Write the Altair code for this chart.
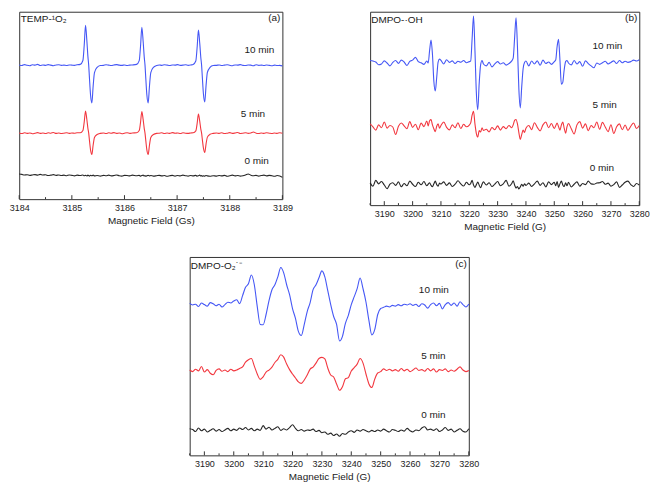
import altair as alt
import pandas as pd

FONT = "Liberation Sans"
SERIES = ["10 min", "5 min", "0 min"]
COLORS = ["#4557f5", "#f2373f", "#262626"]

# ---------------- Panel (a): TEMP-1O2 ----------------
a_field = [
    3184.00, 3184.05, 3184.10, 3184.15, 3184.20, 3184.25, 3184.30, 3184.35, 3184.40, 3184.45,
    3184.50, 3184.55, 3184.60, 3184.65, 3184.70, 3184.75, 3184.80, 3184.85, 3184.90, 3184.95,
    3185.00, 3185.05, 3185.10,
    3185.16, 3185.21, 3185.235, 3185.26, 3185.285, 3185.305, 3185.32, 3185.335, 3185.355, 3185.38,
    3185.405, 3185.43, 3185.48, 3185.54,
    3185.60, 3185.65, 3185.70, 3185.75, 3185.80, 3185.85, 3185.90, 3185.95, 3186.00, 3186.05,
    3186.10, 3186.15,
    3186.23, 3186.28, 3186.305, 3186.33, 3186.355, 3186.375, 3186.39, 3186.405, 3186.425, 3186.45,
    3186.475, 3186.50, 3186.55, 3186.61,
    3186.66, 3186.71, 3186.76, 3186.81, 3186.86, 3186.91, 3186.96, 3187.01, 3187.06, 3187.11,
    3187.16, 3187.21, 3187.26,
    3187.305, 3187.355, 3187.38, 3187.405, 3187.43, 3187.45, 3187.465, 3187.48, 3187.50, 3187.525,
    3187.55, 3187.575, 3187.625, 3187.685,
    3187.75, 3187.80, 3187.85, 3187.90, 3187.95, 3188.00, 3188.05, 3188.10, 3188.15, 3188.20,
    3188.25, 3188.30, 3188.35, 3188.40, 3188.45, 3188.50, 3188.55, 3188.60, 3188.65, 3188.70,
    3188.75, 3188.80, 3188.85, 3188.90, 3188.95, 3189.00,
]
a_10min = [
    71.6, 71.3, 71.8, 71.4, 71.2, 71.7, 71.5, 71.9, 71.3, 71.6, 71.4, 71.8, 71.5, 71.2, 71.6, 71.7,
    71.4, 71.5, 71.3, 71.6, 71.5, 71.4, 71.7,
    71.9, 74.0, 82.1, 92.7, 84.6, 76.2, 71.5, 64.4, 55.7, 51.3, 60.4, 67.5, 70.3, 71.3,
    71.4, 71.7, 71.5, 71.3, 71.6, 71.8, 71.5, 71.4, 71.6, 71.3, 71.5, 71.6,
    71.9, 73.9, 81.6, 91.7, 84.0, 75.9, 71.5, 64.4, 55.7, 51.3, 60.4, 67.5, 70.3, 71.3,
    71.6, 71.4, 71.7, 71.5, 71.3, 71.6, 71.5, 71.8, 71.4, 71.5, 71.7, 71.4, 71.6,
    71.9, 73.7, 80.9, 90.2, 83.1, 75.6, 71.5, 64.6, 56.1, 51.8, 60.7, 67.6, 70.3, 71.3,
    71.4, 71.6, 71.3, 71.5, 71.7, 71.4, 71.2, 71.6, 71.5, 71.8, 71.4, 71.3, 71.6, 71.5, 71.2, 71.7,
    71.4, 71.5, 71.3, 71.6, 71.4, 71.2, 71.5, 71.3, 71.4, 71.1,
]
a_5min = [
    35.3, 35.0, 35.4, 35.1, 35.3, 34.9, 35.2, 35.5, 35.1, 35.3, 35.0, 35.4, 35.2, 35.6, 35.1, 35.3,
    35.0, 35.2, 35.4, 35.1, 35.3, 35.2, 35.4,
    35.4, 36.6, 41.1, 47.0, 42.5, 37.8, 35.2, 31.2, 26.3, 23.8, 28.9, 32.9, 34.5, 35.1,
    35.3, 35.0, 35.4, 35.2, 35.5, 35.1, 35.3, 34.9, 35.2, 35.4, 35.1, 35.3,
    35.4, 36.6, 41.0, 46.8, 42.4, 37.8, 35.2, 31.2, 26.3, 23.8, 28.9, 32.9, 34.5, 35.1,
    35.2, 35.4, 35.0, 35.3, 35.1, 35.5, 35.2, 35.3, 35.0, 35.4, 35.2, 35.1, 35.3,
    35.4, 36.4, 40.3, 45.4, 41.5, 37.4, 35.2, 31.6, 27.2, 24.9, 29.5, 33.1, 34.6, 35.1,
    35.3, 35.1, 35.4, 35.0, 35.2, 35.5, 35.1, 35.3, 35.6, 35.0, 35.2, 35.4, 35.1, 35.3, 35.8, 35.2,
    35.0, 35.3, 35.1, 35.4, 35.2, 35.0, 35.3, 35.1, 35.4, 35.2,
]
a_0min = [
    13.4, 13.2, 12.9, 13.0, 12.7, 12.9, 13.1, 12.8, 13.2, 12.9, 13.0, 12.6, 12.8, 13.1, 12.7, 12.9,
    12.6, 12.8, 12.5, 12.9, 12.7, 12.4, 12.8,
    12.6, 12.9, 12.5, 12.7, 12.4, 12.8, 12.6, 12.3, 12.7, 12.5, 12.8, 12.4, 12.6, 12.3,
    12.7, 12.5, 12.8, 12.4, 12.6, 12.9, 12.5, 12.3, 12.7, 12.6, 12.4, 12.8,
    12.5, 12.7, 12.3, 12.6, 12.8, 12.4, 12.6, 12.2, 12.5, 12.7, 12.4, 12.6, 12.3, 12.5,
    12.7, 12.4, 12.6, 12.2, 12.5, 12.7, 12.3, 12.6, 12.4, 12.8, 12.5, 12.3, 12.6,
    12.4, 12.7, 12.3, 12.5, 12.8, 12.4, 12.6, 12.2, 12.5, 12.3, 12.6, 12.4, 12.2, 12.5,
    12.3, 12.6, 12.4, 12.7, 12.2, 12.5, 12.8, 12.4, 12.6, 12.3, 12.5, 12.9, 13.4, 12.8, 12.5, 12.7,
    12.3, 12.6, 12.8, 12.4, 12.7, 12.5, 12.2, 12.6, 12.4, 11.6,
]
a_major = [3184, 3185, 3186, 3187, 3188, 3189]
a_minor = [3184.5, 3185.5, 3186.5, 3187.5, 3188.5]
a_label_text = ["10 min", "5 min", "0 min", "TEMP-\u00b9O\u2082"]
a_label_x = [3188.28, 3188.21, 3188.28, 3184.03]
a_label_y = [79.8, 45.6, 20.2, 96.0]

# ---------------- Panel (b): DMPO-.OH ----------------
b_field = [
    3185, 3186, 3187, 3188, 3189, 3190, 3191, 3192, 3193, 3194, 3195, 3196, 3197, 3198, 3199, 3200,
    3201, 3202, 3203, 3204, 3205,
    3205.5, 3206, 3206.5, 3207, 3207.5, 3208, 3208.5, 3209, 3209.5, 3210,
    3211, 3212, 3213, 3214, 3215, 3216, 3217, 3218, 3219, 3220,
    3220.5, 3221, 3221.5, 3222, 3222.5, 3223, 3223.5, 3224, 3224.5, 3225,
    3226, 3227, 3228, 3229, 3230, 3231, 3232, 3233, 3234, 3235,
    3235.5, 3236, 3236.5, 3237, 3237.5, 3238, 3238.5, 3239, 3239.5, 3240,
    3241, 3242, 3243, 3244, 3245, 3246, 3247, 3248, 3249, 3250,
    3250.5, 3251, 3251.5, 3252, 3252.5, 3253, 3253.5, 3254, 3254.5, 3255,
    3256, 3257, 3258, 3259, 3260, 3261, 3262, 3263, 3264, 3265, 3266, 3267, 3268, 3269, 3270,
    3271, 3272, 3273, 3274, 3275, 3276, 3277, 3278, 3279, 3280,
]
b_10min = [
    74.8, 74.5, 74.0, 72.6, 73.0, 74.6, 73.5, 72.0, 73.8, 74.8, 73.3, 75.0, 74.0, 72.2, 74.3, 75.0,
    76.4, 74.2, 73.6, 72.8, 74.5,
    73.5, 80.0, 85.3, 78.0, 64.0, 59.0, 66.0, 74.0, 75.5, 74.8,
    73.0, 75.2, 73.8, 74.6, 73.2, 74.4, 73.9, 74.8, 73.6, 74.2,
    74.5, 86.0, 97.8, 80.0, 58.0, 49.3, 63.0, 72.5, 74.8, 73.0,
    72.0, 73.8, 71.5, 73.0, 74.2, 73.0, 73.6, 72.4, 73.2, 74.6,
    76.0, 86.5, 96.8, 82.0, 60.0, 50.3, 61.0, 70.5, 73.8, 74.5,
    72.0, 74.5, 73.0, 74.6, 72.3, 75.0, 73.2, 74.0, 72.8, 74.2,
    75.0, 82.0, 85.7, 75.0, 62.5, 63.5, 70.0, 74.2, 74.8, 73.5,
    72.5, 74.8, 73.0, 74.2, 71.8, 74.6, 73.2, 72.0, 71.0, 73.5, 72.8, 73.6, 74.4, 73.0, 73.8,
    74.6, 73.2, 74.8, 73.6, 74.4, 73.8, 74.2, 75.0, 74.5, 75.2,
]
b_5min = [
    42.0, 40.5, 38.8, 41.5, 40.0, 43.0, 39.8, 41.2, 40.4, 36.5, 40.8, 42.5, 41.0, 39.5, 43.2, 40.2,
    41.8, 39.0, 42.4, 40.6, 43.5,
    41.0, 43.6, 44.2, 41.5, 39.5, 38.0, 40.8, 42.0, 39.8, 41.2,
    43.0, 40.2, 38.9, 41.5, 40.0, 42.6, 39.6, 41.8, 40.5, 41.4,
    42.5, 46.5, 48.5, 42.0, 37.0, 35.2, 38.5, 37.8, 40.0, 38.6,
    39.2, 37.9, 40.1, 39.0, 41.0, 38.8, 40.6, 39.5, 41.2, 40.0,
    41.5, 43.8, 44.3, 42.0, 37.5, 34.0, 36.5, 38.8, 37.6, 39.8,
    41.2, 39.0, 42.6, 40.2, 38.4, 41.5, 43.0, 40.0, 42.2, 39.6,
    41.0, 42.5, 40.6, 38.8, 41.4, 43.0, 39.8, 37.2, 40.6, 42.2,
    39.5, 36.8, 41.5, 43.2, 39.8, 42.0, 38.5, 41.2, 40.0, 43.0, 39.2, 42.8, 40.4, 38.0, 41.6,
    37.0, 40.5, 42.0, 39.0, 41.4, 38.6, 40.8, 42.5, 39.6, 41.2,
]
b_0min = [
    11.5, 9.8, 12.8, 11.0, 12.2, 10.4, 8.5, 10.8, 11.6, 10.2, 12.0, 9.5, 11.2, 10.0, 12.4, 10.8,
    9.6, 11.8, 10.5, 12.2, 10.0,
    10.8, 11.6, 10.2, 9.5, 11.0, 12.4, 10.6, 9.8, 11.4, 10.9,
    12.0, 10.2, 11.5, 9.6, 10.8, 12.6, 11.0, 9.9, 11.8, 10.5,
    11.2, 12.8, 10.4, 9.2, 10.6, 11.9, 10.3, 9.0, 10.8, 12.0,
    10.4, 11.6, 9.6, 10.9, 12.2, 10.0, 11.0, 12.8, 9.8, 11.2,
    12.6, 10.4, 8.8, 9.6, 8.4, 9.4, 10.8, 9.8, 11.0, 10.2,
    11.4, 9.6, 11.0, 12.4, 10.2, 11.6, 9.4, 12.0, 10.6, 11.8,
    10.0, 12.2, 9.2, 11.0, 12.4, 10.4, 9.6, 11.6, 10.0, 11.8,
    9.4, 10.8, 12.0, 9.8, 11.2, 10.6, 12.4, 11.0, 10.8, 11.4, 11.6, 12.2, 10.8, 11.4, 9.8,
    10.6, 12.0, 9.2, 10.4, 11.8, 12.4, 10.6, 9.6, 11.2, 10.4,
]
bc_major = [3190, 3200, 3210, 3220, 3230, 3240, 3250, 3260, 3270, 3280]
bc_minor = [3185, 3195, 3205, 3215, 3225, 3235, 3245, 3255, 3265, 3275]
b_label_text = ["10 min", "5 min", "0 min", "DMPO-\u00b7OH"]
b_label_x = [3263.5, 3263.5, 3262.5, 3185.4]
b_label_y = [82.5, 51.8, 19.3, 95.8]

# ---------------- Panel (c): DMPO-O2.- ----------------
c_field = [
    3185, 3186, 3187, 3188, 3189, 3190, 3191, 3192, 3193, 3194, 3195, 3196, 3197, 3198, 3199, 3200,
    3201, 3202, 3203, 3204, 3205, 3206, 3207, 3208, 3209, 3210, 3211, 3212, 3213, 3214, 3215, 3216,
    3217, 3218, 3219, 3220, 3221, 3222, 3223, 3224, 3225, 3226, 3227, 3228, 3229, 3230, 3231, 3232,
    3233, 3234, 3235, 3236, 3237, 3238, 3239, 3240, 3241, 3242, 3243, 3244, 3245, 3246, 3247, 3248,
    3249, 3250, 3251, 3252, 3253, 3254, 3255, 3256, 3257, 3258, 3259, 3260, 3261, 3262, 3263, 3264,
    3265, 3266, 3267, 3268, 3269, 3270, 3271, 3272, 3273, 3274, 3275, 3276, 3277, 3278, 3279, 3280,
]
c_10min = [
    76.6, 75.8, 76.2, 75.0, 76.8, 76.0, 75.2, 77.0, 76.4, 75.4, 76.2, 74.8, 76.0, 77.2, 76.8, 77.8,
    78.4, 76.5, 80.5, 84.7, 86.5, 90.9, 86.0, 75.0, 66.0, 65.8, 71.0, 78.0, 83.5, 86.0, 90.0, 94.7,
    92.0, 86.0, 81.0, 74.0, 69.0, 62.5, 60.4, 66.0, 72.5, 77.0, 83.5, 86.0, 89.5, 93.0, 90.0, 83.0,
    76.0, 70.0, 66.0, 57.7, 60.0, 66.5, 70.6, 76.0, 80.0, 84.0, 89.4, 84.0, 77.3, 68.0, 60.7, 63.5,
    71.0, 74.0, 74.6, 75.2, 74.8, 75.6, 75.2, 76.0, 75.4, 76.2, 75.8, 76.4, 75.6, 76.2, 75.0, 76.4,
    75.8, 74.2, 76.0, 76.8, 75.4, 76.6, 73.8, 76.0, 77.0, 75.6, 76.8, 75.2, 77.4, 76.0, 74.8, 76.2,
]
c_5min = [
    43.0, 42.2, 43.4, 42.6, 44.8, 42.0, 43.2, 41.4, 40.6, 42.8, 43.6, 42.4, 43.0, 42.2, 43.4, 42.6,
    43.0, 43.8, 44.6, 47.0, 48.2, 48.8, 45.0, 41.0, 38.3, 39.6, 42.0, 43.0, 44.5, 46.8, 48.4, 50.7,
    49.5, 46.0, 43.2, 41.0, 39.0, 37.0, 36.3, 38.0, 40.5, 43.5, 44.5, 46.5, 48.8, 49.4, 48.6, 44.0,
    40.5, 39.5, 36.0, 32.8, 34.6, 38.6, 39.2, 42.5, 44.2, 46.0, 48.8, 46.5, 41.0, 36.0, 34.2, 38.5,
    41.5, 42.2, 43.6, 42.8, 43.4, 42.6, 43.2, 42.4, 43.8, 42.6, 43.4, 42.2, 43.0, 44.0, 42.8, 43.2,
    42.4, 43.8, 42.6, 43.6, 42.0, 43.2, 42.8, 43.6, 42.2, 43.0, 42.4, 43.4, 44.6, 43.0, 42.2, 42.8,
]
c_0min = [
    13.4, 13.0, 12.0, 13.8, 12.4, 13.2, 11.8, 12.6, 13.4, 12.2, 13.0, 12.0, 12.8, 13.6, 12.4, 13.2,
    12.6, 13.8, 13.0, 14.0, 12.8, 13.6, 12.4, 13.2, 12.6, 15.0, 13.2, 14.2, 12.8, 13.6, 14.4, 12.6,
    13.4, 12.8, 14.0, 15.4, 13.6, 12.4, 13.0, 12.2, 12.8, 12.6, 13.2, 12.0, 12.6, 11.4, 11.8, 10.6,
    11.2, 10.0, 10.8, 9.6, 11.0, 10.6, 11.8, 12.4, 11.6, 12.8, 12.2, 13.0, 12.4, 11.8, 12.6, 12.0,
    12.8, 12.2, 13.2, 12.4, 11.8, 13.0, 12.6, 12.0, 12.8, 12.2, 13.6, 12.4, 11.8, 12.8, 12.4, 13.8,
    14.4, 12.8, 13.2, 12.6, 13.4, 12.0, 12.8, 14.0, 12.6, 13.2, 11.8, 12.6, 13.4, 12.2, 11.8, 13.4,
]
c_label_text = ["10 min", "5 min", "0 min", "DMPO-O\u2082\u02d9\u207b"]
c_label_x = [3263.0, 3263.8, 3263.8, 3185.4]
c_label_y = [83.1, 50.2, 20.5, 95.6]


def panel(field, traces, xdom, major, minor, xtitle, ltext, lx, ly, letter, w, h):
    rows = []
    for name, vals in zip(SERIES, traces):
        assert len(vals) == len(field), (name, len(vals), len(field))
        for f, v in zip(field, vals):
            rows.append({"field": f, "signal": v, "series": name})
    df = pd.DataFrame(rows)
    x = alt.X("field:Q", scale=alt.Scale(domain=xdom, nice=False, zero=False),
              axis=alt.Axis(values=major, format="d", title=xtitle,
                            labelFlush=False, labelOverlap=False))
    y = alt.Y("signal:Q", scale=alt.Scale(domain=[0, 100], nice=False, zero=False), axis=None)
    lines = alt.Chart(df).mark_line(strokeWidth=1.1, interpolate="monotone").encode(
        x=x, y=y,
        color=alt.Color("series:N", scale=alt.Scale(domain=SERIES, range=COLORS), legend=None),
        detail="series:N",
    )
    lab = pd.DataFrame({"field": lx, "signal": ly, "text": ltext})
    labels = alt.Chart(lab).mark_text(align="left", baseline="middle", fontSize=10,
                                      color="#1a1a1a").encode(x=x, y=y, text="text:N")
    let = pd.DataFrame({"field": [xdom[1]], "signal": [96.5], "text": [letter]})
    letters = alt.Chart(let).mark_text(align="right", baseline="middle", fontSize=10, dx=-2,
                                       color="#1a1a1a").encode(x=x, y=y, text="text:N")
    tmaj = alt.Chart(pd.DataFrame({"field": major})).mark_rule(color="#333", strokeWidth=1).encode(
        x=x, y=alt.value(h), y2=alt.value(h - 4))
    tmin = alt.Chart(pd.DataFrame({"field": minor})).mark_rule(color="#333", strokeWidth=1).encode(
        x=x, y=alt.value(h), y2=alt.value(h - 2))
    return alt.layer(lines, tmaj, tmin, labels, letters).properties(width=w, height=h)


pa = panel(a_field, [a_10min, a_5min, a_0min], [3184, 3189], a_major, a_minor,
           "Magnetic Field (Gs)", a_label_text, a_label_x, a_label_y, "(a)", 264, 188)
pb = panel(b_field, [b_10min, b_5min, b_0min], [3185, 3280], bc_major, bc_minor,
           "Magnetic Field (G)", b_label_text, b_label_x, b_label_y, "(b)", 270, 194)
pc = panel(c_field, [c_10min, c_5min, c_0min], [3185, 3280], bc_major, bc_minor,
           "Magnetic Field (G)", c_label_text, c_label_x, c_label_y, "(c)", 280, 199)

top = alt.hconcat(pa, pb, spacing=74)
chart = alt.vconcat(top, pc, spacing=24, center=True).properties(
    padding={"left": 0, "right": 0, "top": 2, "bottom": 2}
).configure_view(stroke="#333", strokeWidth=1).configure_axis(
    labelFont=FONT, titleFont=FONT, labelFontSize=9, titleFontSize=10, titleFontWeight="normal",
    labelColor="#222", titleColor="#222", ticks=False, domain=False, grid=False,
    labelPadding=4, titlePadding=3,
).configure_text(font=FONT)

chart.save("out.html", embed_options={"renderer": "svg", "actions": False})
